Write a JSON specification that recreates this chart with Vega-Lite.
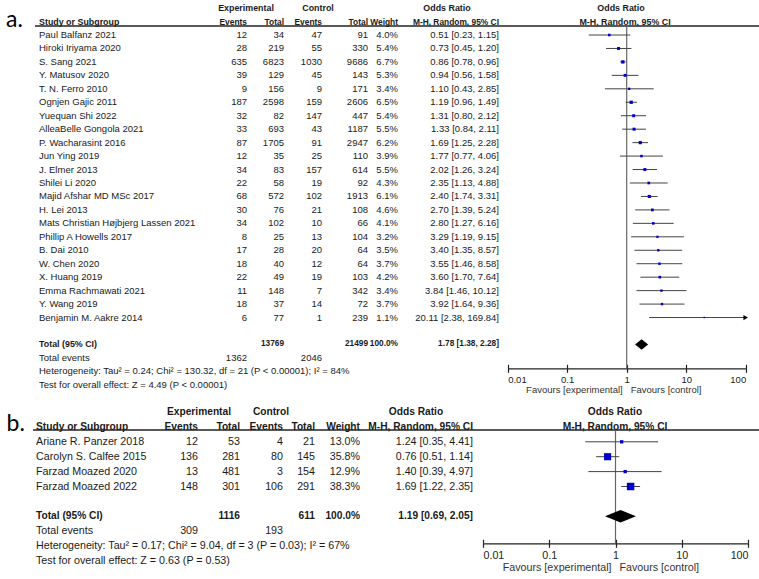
{
  "$schema": "https://vega.github.io/schema/vega-lite/v6.json",
  "width": 759,
  "height": 579,
  "autosize": {"type": "none"},
  "padding": 0,
  "background": "white",
  "config": {
    "view": {"stroke": null},
    "text": {"font": "Liberation Sans", "fontSize": 9.5, "color": "#1a1a1a", "baseline": "middle"}
  },
  "datasets": {
    "cols": [
      {"k": "label", "c": 0}, {"k": "ee", "c": 1}, {"k": "et", "c": 2}, {"k": "ce", "c": 3},
      {"k": "ct", "c": 4}, {"k": "wt", "c": 5}, {"k": "ci", "c": 6}
    ],
    "heads": [
      {"p": "a", "r": -2, "c": 7, "t": "Experimental"},
      {"p": "a", "r": -2, "c": 8, "t": "Control"},
      {"p": "a", "r": -2, "c": 9, "t": "Odds Ratio"},
      {"p": "a", "r": -2, "c": 10, "t": "Odds Ratio"},
      {"p": "a", "r": -1, "c": 0, "t": "Study or Subgroup"},
      {"p": "a", "r": -1, "c": 1, "t": "Events"},
      {"p": "a", "r": -1, "c": 2, "t": "Total"},
      {"p": "a", "r": -1, "c": 3, "t": "Events"},
      {"p": "a", "r": -1, "c": 4, "t": "Total"},
      {"p": "a", "r": -1, "c": 5, "t": "Weight"},
      {"p": "a", "r": -1, "c": 6, "t": "M-H, Random, 95% CI"},
      {"p": "a", "r": -1, "c": 11, "t": "M-H, Random, 95% CI"},
      {"p": "a", "r": -1, "c": 12, "t": "a."},
      {"p": "b", "r": -2, "c": 7, "t": "Experimental"},
      {"p": "b", "r": -2, "c": 8, "t": "Control"},
      {"p": "b", "r": -2, "c": 9, "t": "Odds Ratio"},
      {"p": "b", "r": -2, "c": 10, "t": "Odds Ratio"},
      {"p": "b", "r": -1, "c": 0, "t": "Study or Subgroup"},
      {"p": "b", "r": -1, "c": 1, "t": "Events"},
      {"p": "b", "r": -1, "c": 2, "t": "Total"},
      {"p": "b", "r": -1, "c": 3, "t": "Events"},
      {"p": "b", "r": -1, "c": 4, "t": "Total"},
      {"p": "b", "r": -1, "c": 5, "t": "Weight"},
      {"p": "b", "r": -1, "c": 6, "t": "M-H, Random, 95% CI"},
      {"p": "b", "r": -1, "c": 11, "t": "M-H, Random, 95% CI"},
      {"p": "b", "r": -1, "c": 12, "t": "b."}
    ],
    "rows": [
      {"p": "a", "r": 0, "kind": "study", "label": "Paul Balfanz 2021", "ee": 12, "et": 34, "ce": 47, "ct": 91, "w": 4.0, "or": 0.51, "lo": 0.23, "hi": 1.15},
      {"p": "a", "r": 1, "kind": "study", "label": "Hiroki Iriyama 2020", "ee": 28, "et": 219, "ce": 55, "ct": 330, "w": 5.4, "or": 0.73, "lo": 0.45, "hi": 1.20},
      {"p": "a", "r": 2, "kind": "study", "label": "S. Sang 2021", "ee": 635, "et": 6823, "ce": 1030, "ct": 9686, "w": 6.7, "or": 0.86, "lo": 0.78, "hi": 0.96},
      {"p": "a", "r": 3, "kind": "study", "label": "Y. Matusov 2020", "ee": 39, "et": 129, "ce": 45, "ct": 143, "w": 5.3, "or": 0.94, "lo": 0.56, "hi": 1.58},
      {"p": "a", "r": 4, "kind": "study", "label": "T. N. Ferro 2010", "ee": 9, "et": 156, "ce": 9, "ct": 171, "w": 3.4, "or": 1.10, "lo": 0.43, "hi": 2.85},
      {"p": "a", "r": 5, "kind": "study", "label": "Ognjen Gajic 2011", "ee": 187, "et": 2598, "ce": 159, "ct": 2606, "w": 6.5, "or": 1.19, "lo": 0.96, "hi": 1.49},
      {"p": "a", "r": 6, "kind": "study", "label": "Yuequan Shi 2022", "ee": 32, "et": 82, "ce": 147, "ct": 447, "w": 5.4, "or": 1.31, "lo": 0.80, "hi": 2.12},
      {"p": "a", "r": 7, "kind": "study", "label": "AlleaBelle Gongola 2021", "ee": 33, "et": 693, "ce": 43, "ct": 1187, "w": 5.5, "or": 1.33, "lo": 0.84, "hi": 2.11},
      {"p": "a", "r": 8, "kind": "study", "label": "P. Wacharasint 2016", "ee": 87, "et": 1705, "ce": 91, "ct": 2947, "w": 6.2, "or": 1.69, "lo": 1.25, "hi": 2.28},
      {"p": "a", "r": 9, "kind": "study", "label": "Jun Ying 2019", "ee": 12, "et": 35, "ce": 25, "ct": 110, "w": 3.9, "or": 1.77, "lo": 0.77, "hi": 4.06},
      {"p": "a", "r": 10, "kind": "study", "label": "J. Elmer 2013", "ee": 34, "et": 83, "ce": 157, "ct": 614, "w": 5.5, "or": 2.02, "lo": 1.26, "hi": 3.24},
      {"p": "a", "r": 11, "kind": "study", "label": "Shilei Li 2020", "ee": 22, "et": 58, "ce": 19, "ct": 92, "w": 4.3, "or": 2.35, "lo": 1.13, "hi": 4.88},
      {"p": "a", "r": 12, "kind": "study", "label": "Majid Afshar MD MSc 2017", "ee": 68, "et": 572, "ce": 102, "ct": 1913, "w": 6.1, "or": 2.40, "lo": 1.74, "hi": 3.31},
      {"p": "a", "r": 13, "kind": "study", "label": "H. Lei 2013", "ee": 30, "et": 76, "ce": 21, "ct": 108, "w": 4.6, "or": 2.70, "lo": 1.39, "hi": 5.24},
      {"p": "a", "r": 14, "kind": "study", "label": "Mats Christian Højbjerg Lassen 2021", "ee": 34, "et": 102, "ce": 10, "ct": 66, "w": 4.1, "or": 2.80, "lo": 1.27, "hi": 6.16},
      {"p": "a", "r": 15, "kind": "study", "label": "Phillip A Howells 2017", "ee": 8, "et": 25, "ce": 13, "ct": 104, "w": 3.2, "or": 3.29, "lo": 1.19, "hi": 9.15},
      {"p": "a", "r": 16, "kind": "study", "label": "B. Dai 2010", "ee": 17, "et": 28, "ce": 20, "ct": 64, "w": 3.5, "or": 3.40, "lo": 1.35, "hi": 8.57},
      {"p": "a", "r": 17, "kind": "study", "label": "W. Chen 2020", "ee": 18, "et": 40, "ce": 12, "ct": 64, "w": 3.7, "or": 3.55, "lo": 1.46, "hi": 8.58},
      {"p": "a", "r": 18, "kind": "study", "label": "X. Huang 2019", "ee": 22, "et": 49, "ce": 19, "ct": 103, "w": 4.2, "or": 3.60, "lo": 1.70, "hi": 7.64},
      {"p": "a", "r": 19, "kind": "study", "label": "Emma Rachmawati 2021", "ee": 11, "et": 148, "ce": 7, "ct": 342, "w": 3.4, "or": 3.84, "lo": 1.46, "hi": 10.12},
      {"p": "a", "r": 20, "kind": "study", "label": "Y. Wang 2019", "ee": 18, "et": 37, "ce": 14, "ct": 72, "w": 3.7, "or": 3.92, "lo": 1.64, "hi": 9.36},
      {"p": "a", "r": 21, "kind": "study", "label": "Benjamin M. Aakre 2014", "ee": 6, "et": 77, "ce": 1, "ct": 239, "w": 1.1, "or": 20.11, "lo": 2.38, "hi": 169.84},
      {"p": "a", "r": 23, "kind": "total", "label": "Total (95% CI)", "et": 13769, "ct": 21499, "w": 100, "or": 1.78, "lo": 1.38, "hi": 2.28},
      {"p": "a", "r": 24, "kind": "events", "label": "Total events", "ee": 1362, "ce": 2046},
      {"p": "a", "r": 25, "kind": "note", "label": "Heterogeneity: Tau² = 0.24; Chi² = 130.32, df = 21 (P < 0.00001); I² = 84%"},
      {"p": "a", "r": 26, "kind": "note", "label": "Test for overall effect: Z = 4.49 (P < 0.00001)"},
      {"p": "b", "r": 0, "kind": "study", "label": "Ariane R. Panzer 2018", "ee": 12, "et": 53, "ce": 4, "ct": 21, "w": 13.0, "or": 1.24, "lo": 0.35, "hi": 4.41},
      {"p": "b", "r": 1, "kind": "study", "label": "Carolyn S. Calfee 2015", "ee": 136, "et": 281, "ce": 80, "ct": 145, "w": 35.8, "or": 0.76, "lo": 0.51, "hi": 1.14},
      {"p": "b", "r": 2, "kind": "study", "label": "Farzad Moazed 2020", "ee": 13, "et": 481, "ce": 3, "ct": 154, "w": 12.9, "or": 1.40, "lo": 0.39, "hi": 4.97},
      {"p": "b", "r": 3, "kind": "study", "label": "Farzad Moazed 2022", "ee": 148, "et": 301, "ce": 106, "ct": 291, "w": 38.3, "or": 1.69, "lo": 1.22, "hi": 2.35},
      {"p": "b", "r": 5, "kind": "total", "label": "Total (95% CI)", "et": 1116, "ct": 611, "w": 100, "or": 1.19, "lo": 0.69, "hi": 2.05},
      {"p": "b", "r": 6, "kind": "events", "label": "Total events", "ee": 309, "ce": 193},
      {"p": "b", "r": 7, "kind": "note", "label": "Heterogeneity: Tau² = 0.17; Chi² = 9.04, df = 3 (P = 0.03); I² = 67%"},
      {"p": "b", "r": 8, "kind": "note", "label": "Test for overall effect: Z = 0.63 (P = 0.53)"}
    ]
  },
  "layer": [
    {"data": {"name": "heads"}, "transform": [{"filter": "datum.p == 'a' && datum.c == 0"}],
     "mark": {"type": "text", "align": "left", "fontWeight": "bold", "fontSize": 8.9},
     "encoding": {
       "x": {"field": "c", "type": "quantitative", "axis": null, "scale": {"domain": [0,1,2,3,4,5,6,7,8,9,10,11,12,13,14], "range": [39,247,284,322,368,398,499,246,318,447,621,625,6,35,759], "nice": false, "zero": false}},
       "y": {"field": "r", "type": "quantitative", "axis": null, "scale": {"domain": [-2, 26], "range": [8.1, 384.8], "nice": false, "zero": false}},
       "text": {"field": "t"}}},
    {"data": {"name": "heads"}, "transform": [{"filter": "datum.p == 'a' && datum.c >= 1 && datum.c <= 6"}],
     "mark": {"type": "text", "align": "right", "fontWeight": "bold", "fontSize": 8.4},
     "encoding": {
       "x": {"field": "c", "type": "quantitative", "axis": null, "scale": {"domain": [0,1,2,3,4,5,6,7,8,9,10,11,12,13,14], "range": [39,247,284,322,368,398,499,246,318,447,621,625,6,35,759], "nice": false, "zero": false}},
       "y": {"field": "r", "type": "quantitative", "axis": null, "scale": {"domain": [-2, 26], "range": [8.1, 384.8], "nice": false, "zero": false}},
       "text": {"field": "t"}}},
    {"data": {"name": "heads"}, "transform": [{"filter": "datum.p == 'a' && datum.c >= 7 && datum.c <= 11"}],
     "mark": {"type": "text", "align": "center", "fontWeight": "bold", "fontSize": 8.9},
     "encoding": {
       "x": {"field": "c", "type": "quantitative", "axis": null, "scale": {"domain": [0,1,2,3,4,5,6,7,8,9,10,11,12,13,14], "range": [39,247,284,322,368,398,499,246,318,447,621,625,6,35,759], "nice": false, "zero": false}},
       "y": {"field": "r", "type": "quantitative", "axis": null, "scale": {"domain": [-2, 26], "range": [8.1, 384.8], "nice": false, "zero": false}},
       "text": {"field": "t"}}},
    {"data": {"name": "heads"}, "transform": [{"filter": "datum.p == 'a' && datum.c == 12"}],
     "mark": {"type": "text", "align": "left", "baseline": "alphabetic", "font": "Lato", "fontSize": 23, "dy": 5.5, "color": "#000"},
     "encoding": {
       "x": {"field": "c", "type": "quantitative", "axis": null, "scale": {"domain": [0,1,2,3,4,5,6,7,8,9,10,11,12,13,14], "range": [39,247,284,322,368,398,499,246,318,447,621,625,6,35,759], "nice": false, "zero": false}},
       "y": {"field": "r", "type": "quantitative", "axis": null, "scale": {"domain": [-2, 26], "range": [8.1, 384.8], "nice": false, "zero": false}},
       "text": {"field": "t"}}},
    {"data": {"name": "heads"}, "transform": [{"filter": "datum.p == 'a' && datum.c == 12"}],
     "mark": {"type": "rule", "color": "#222", "strokeWidth": 1.5},
     "encoding": {
       "x": {"datum": 13, "type": "quantitative", "axis": null, "scale": {"domain": [0,1,2,3,4,5,6,7,8,9,10,11,12,13,14], "range": [39,247,284,322,368,398,499,246,318,447,621,625,6,35,759], "nice": false, "zero": false}},
       "x2": {"datum": 14},
       "y": {"datum": -0.67, "type": "quantitative", "axis": null, "scale": {"domain": [-2, 26], "range": [8.1, 384.8], "nice": false, "zero": false}}}},
    {"data": {"name": "rows"}, "transform": [{"filter": "datum.p == 'a' && datum.kind != 'total'"},
       {"fold": ["label"], "as": ["k", "v"]},
       {"lookup": "k", "from": {"data": {"name": "cols"}, "key": "k", "fields": ["c"]}}],
     "mark": {"type": "text", "align": "left"},
     "encoding": {
       "x": {"field": "c", "type": "quantitative", "axis": null, "scale": {"domain": [0,1,2,3,4,5,6,7,8,9,10,11,12,13,14], "range": [39,247,284,322,368,398,499,246,318,447,621,625,6,35,759], "nice": false, "zero": false}},
       "y": {"field": "r", "type": "quantitative", "axis": null, "scale": {"domain": [-2, 26], "range": [8.1, 384.8], "nice": false, "zero": false}},
       "text": {"field": "v", "type": "nominal"}}},
    {"data": {"name": "rows"}, "transform": [{"filter": "datum.p == 'a' && (datum.kind == 'study' || datum.kind == 'events')"},
       {"calculate": "isValid(datum.w) ? format(datum.w, '.1f') + '%' : null", "as": "wt"},
       {"calculate": "isValid(datum.or) ? format(datum.or, '.2f') + ' [' + format(datum.lo, '.2f') + ', ' + format(datum.hi, '.2f') + ']' : null", "as": "ci"},
       {"fold": ["ee", "et", "ce", "ct", "wt", "ci"], "as": ["k", "v"]},
       {"filter": "isValid(datum.v)"},
       {"lookup": "k", "from": {"data": {"name": "cols"}, "key": "k", "fields": ["c"]}}],
     "mark": {"type": "text", "align": "right"},
     "encoding": {
       "x": {"field": "c", "type": "quantitative", "axis": null, "scale": {"domain": [0,1,2,3,4,5,6,7,8,9,10,11,12,13,14], "range": [39,247,284,322,368,398,499,246,318,447,621,625,6,35,759], "nice": false, "zero": false}},
       "y": {"field": "r", "type": "quantitative", "axis": null, "scale": {"domain": [-2, 26], "range": [8.1, 384.8], "nice": false, "zero": false}},
       "text": {"field": "v", "type": "nominal"}}},
    {"data": {"name": "rows"}, "transform": [{"filter": "datum.p == 'a' && datum.kind == 'total'"},
       {"fold": ["label"], "as": ["k", "v"]},
       {"lookup": "k", "from": {"data": {"name": "cols"}, "key": "k", "fields": ["c"]}}],
     "mark": {"type": "text", "align": "left", "fontWeight": "bold", "fontSize": 8.9},
     "encoding": {
       "x": {"field": "c", "type": "quantitative", "axis": null, "scale": {"domain": [0,1,2,3,4,5,6,7,8,9,10,11,12,13,14], "range": [39,247,284,322,368,398,499,246,318,447,621,625,6,35,759], "nice": false, "zero": false}},
       "y": {"field": "r", "type": "quantitative", "axis": null, "scale": {"domain": [-2, 26], "range": [8.1, 384.8], "nice": false, "zero": false}},
       "text": {"field": "v", "type": "nominal"}}},
    {"data": {"name": "rows"}, "transform": [{"filter": "datum.p == 'a' && datum.kind == 'total'"},
       {"calculate": "format(datum.w, '.1f') + '%'", "as": "wt"},
       {"calculate": "format(datum.or, '.2f') + ' [' + format(datum.lo, '.2f') + ', ' + format(datum.hi, '.2f') + ']'", "as": "ci"},
       {"fold": ["et", "ct", "wt", "ci"], "as": ["k", "v"]},
       {"lookup": "k", "from": {"data": {"name": "cols"}, "key": "k", "fields": ["c"]}}],
     "mark": {"type": "text", "align": "right", "fontWeight": "bold", "fontSize": 8.3},
     "encoding": {
       "x": {"field": "c", "type": "quantitative", "axis": null, "scale": {"domain": [0,1,2,3,4,5,6,7,8,9,10,11,12,13,14], "range": [39,247,284,322,368,398,499,246,318,447,621,625,6,35,759], "nice": false, "zero": false}},
       "y": {"field": "r", "type": "quantitative", "axis": null, "scale": {"domain": [-2, 26], "range": [8.1, 384.8], "nice": false, "zero": false}},
       "text": {"field": "v", "type": "nominal"}}},

    {"data": {"name": "rows"}, "transform": [{"filter": "datum.p == 'a' && datum.kind == 'total'"}],
     "mark": {"type": "rule", "color": "#666", "strokeWidth": 1.2},
     "encoding": {
       "x": {"datum": 1, "type": "quantitative", "scale": {"type": "log", "domain": [0.01, 100], "range": [507.7, 745.7], "clamp": true, "nice": false},
             "axis": {"orient": "bottom", "offset": -210.7, "values": [0.01, 0.1, 1, 10, 100], "format": "~g", "labelFlush": true,
                      "labelFont": "Liberation Sans", "labelFontSize": 9.5, "labelColor": "#222", "labelPadding": 2,
                      "domainColor": "#222", "domainWidth": 1.2, "tickColor": "#222", "tickWidth": 1.2, "tickSize": 4,
                      "grid": false, "title": null, "labelOverlap": false}},
       "y": {"datum": -0.67, "type": "quantitative", "axis": null, "scale": {"domain": [-2, 26], "range": [8.1, 384.8], "nice": false, "zero": false}},
       "y2": {"datum": 24.77}}},
    {"data": {"name": "rows"}, "transform": [{"filter": "datum.p == 'a' && datum.kind == 'study'"}],
     "mark": {"type": "rule", "color": "#444", "strokeWidth": 1},
     "encoding": {
       "x": {"field": "lo", "type": "quantitative", "scale": {"type": "log", "domain": [0.01, 100], "range": [507.7, 745.7], "clamp": true, "nice": false},
             "axis": {"orient": "bottom", "offset": -210.7, "values": [0.01, 0.1, 1, 10, 100], "labels": false, "domain": false,
                      "tickColor": "#222", "tickWidth": 1.2, "tickSize": -4, "grid": false, "title": null}},
       "x2": {"field": "hi"},
       "y": {"field": "r", "type": "quantitative", "axis": null, "scale": {"domain": [-2, 26], "range": [8.1, 384.8], "nice": false, "zero": false}}}},
    {"data": {"name": "rows"}, "transform": [{"filter": "datum.p == 'a' && datum.kind == 'study'"}],
     "mark": {"type": "point", "shape": "square", "filled": true, "color": "#0000c8", "opacity": 1},
     "encoding": {
       "x": {"field": "or", "type": "quantitative", "axis": null, "scale": {"type": "log", "domain": [0.01, 100], "range": [507.7, 745.7], "clamp": true, "nice": false}},
       "y": {"field": "r", "type": "quantitative", "axis": null, "scale": {"domain": [-2, 26], "range": [8.1, 384.8], "nice": false, "zero": false}},
       "size": {"field": "w", "type": "quantitative", "scale": {"domain": [0, 6.7], "range": [0, 11]}, "legend": null}}},
    {"data": {"name": "rows"}, "transform": [{"filter": "datum.p == 'a' && datum.kind == 'study' && datum.hi > 100"}],
     "mark": {"type": "point", "shape": "triangle-right", "filled": true, "color": "#000", "opacity": 1, "size": 28},
     "encoding": {
       "x": {"field": "hi", "type": "quantitative", "axis": null, "scale": {"type": "log", "domain": [0.01, 100], "range": [507.7, 745.7], "clamp": true, "nice": false}},
       "y": {"field": "r", "type": "quantitative", "axis": null, "scale": {"domain": [-2, 26], "range": [8.1, 384.8], "nice": false, "zero": false}}}},
    {"data": {"name": "rows"}, "transform": [{"filter": "datum.p == 'a' && datum.kind == 'total'"}],
     "mark": {"type": "point", "shape": "M-1,0L0,-0.8L1,0L0,0.8Z", "filled": true, "color": "#000", "opacity": 1, "size": 169},
     "encoding": {
       "x": {"field": "or", "type": "quantitative", "axis": null, "scale": {"type": "log", "domain": [0.01, 100], "range": [507.7, 745.7], "clamp": true, "nice": false}},
       "y": {"field": "r", "type": "quantitative", "axis": null, "scale": {"domain": [-2, 26], "range": [8.1, 384.8], "nice": false, "zero": false}}}},
    {"data": {"name": "rows"}, "transform": [{"filter": "datum.p == 'a' && datum.kind == 'total'"}],
     "mark": {"type": "text", "align": "right", "dx": -4, "color": "#333"},
     "encoding": {
       "x": {"datum": 1, "type": "quantitative", "axis": null, "scale": {"type": "log", "domain": [0.01, 100], "range": [507.7, 745.7], "clamp": true, "nice": false}},
       "y": {"datum": 26.39, "type": "quantitative", "axis": null, "scale": {"domain": [-2, 26], "range": [8.1, 384.8], "nice": false, "zero": false}},
       "text": {"value": "Favours [experimental]"}}},
    {"data": {"name": "rows"}, "transform": [{"filter": "datum.p == 'a' && datum.kind == 'total'"}],
     "mark": {"type": "text", "align": "left", "dx": 4, "color": "#333"},
     "encoding": {
       "x": {"datum": 1, "type": "quantitative", "axis": null, "scale": {"type": "log", "domain": [0.01, 100], "range": [507.7, 745.7], "clamp": true, "nice": false}},
       "y": {"datum": 26.39, "type": "quantitative", "axis": null, "scale": {"domain": [-2, 26], "range": [8.1, 384.8], "nice": false, "zero": false}},
       "text": {"value": "Favours [control]"}}},

    {"data": {"name": "heads"}, "transform": [{"filter": "datum.p == 'b' && datum.c == 0"}],
     "mark": {"type": "text", "align": "left", "fontWeight": "bold", "fontSize": 10.2},
     "encoding": {
       "x": {"field": "c", "type": "quantitative", "axis": null, "scale": {"domain": [0,1,2,3,4,5,6,7,8,9,10,11,12,13,14], "range": [36,198,240,283,315,360,473,199,271,416,615,615,6.5,33,759], "nice": false, "zero": false}},
       "y": {"field": "r", "type": "quantitative", "axis": null, "scale": {"domain": [-2, 8], "range": [412, 561], "nice": false, "zero": false}},
       "text": {"field": "t"}}},
    {"data": {"name": "heads"}, "transform": [{"filter": "datum.p == 'b' && datum.c >= 1 && datum.c <= 6"}],
     "mark": {"type": "text", "align": "right", "fontWeight": "bold", "fontSize": 10.2},
     "encoding": {
       "x": {"field": "c", "type": "quantitative", "axis": null, "scale": {"domain": [0,1,2,3,4,5,6,7,8,9,10,11,12,13,14], "range": [36,198,240,283,315,360,473,199,271,416,615,615,6.5,33,759], "nice": false, "zero": false}},
       "y": {"field": "r", "type": "quantitative", "axis": null, "scale": {"domain": [-2, 8], "range": [412, 561], "nice": false, "zero": false}},
       "text": {"field": "t"}}},
    {"data": {"name": "heads"}, "transform": [{"filter": "datum.p == 'b' && datum.c >= 7 && datum.c <= 11"}],
     "mark": {"type": "text", "align": "center", "fontWeight": "bold", "fontSize": 10.2},
     "encoding": {
       "x": {"field": "c", "type": "quantitative", "axis": null, "scale": {"domain": [0,1,2,3,4,5,6,7,8,9,10,11,12,13,14], "range": [36,198,240,283,315,360,473,199,271,416,615,615,6.5,33,759], "nice": false, "zero": false}},
       "y": {"field": "r", "type": "quantitative", "axis": null, "scale": {"domain": [-2, 8], "range": [412, 561], "nice": false, "zero": false}},
       "text": {"field": "t"}}},
    {"data": {"name": "heads"}, "transform": [{"filter": "datum.p == 'b' && datum.c == 12"}],
     "mark": {"type": "text", "align": "left", "baseline": "alphabetic", "font": "Lato", "fontSize": 23, "dy": 4, "color": "#000"},
     "encoding": {
       "x": {"field": "c", "type": "quantitative", "axis": null, "scale": {"domain": [0,1,2,3,4,5,6,7,8,9,10,11,12,13,14], "range": [36,198,240,283,315,360,473,199,271,416,615,615,6.5,33,759], "nice": false, "zero": false}},
       "y": {"field": "r", "type": "quantitative", "axis": null, "scale": {"domain": [-2, 8], "range": [412, 561], "nice": false, "zero": false}},
       "text": {"field": "t"}}},
    {"data": {"name": "heads"}, "transform": [{"filter": "datum.p == 'b' && datum.c == 12"}],
     "mark": {"type": "rule", "color": "#222", "strokeWidth": 1.5},
     "encoding": {
       "x": {"datum": 13, "type": "quantitative", "axis": null, "scale": {"domain": [0,1,2,3,4,5,6,7,8,9,10,11,12,13,14], "range": [36,198,240,283,315,360,473,199,271,416,615,615,6.5,33,759], "nice": false, "zero": false}},
       "x2": {"datum": 14},
       "y": {"datum": -0.79, "type": "quantitative", "axis": null, "scale": {"domain": [-2, 8], "range": [412, 561], "nice": false, "zero": false}}}},
    {"data": {"name": "rows"}, "transform": [{"filter": "datum.p == 'b' && datum.kind != 'total'"},
       {"fold": ["label"], "as": ["k", "v"]},
       {"lookup": "k", "from": {"data": {"name": "cols"}, "key": "k", "fields": ["c"]}}],
     "mark": {"type": "text", "align": "left", "fontSize": 10.7},
     "encoding": {
       "x": {"field": "c", "type": "quantitative", "axis": null, "scale": {"domain": [0,1,2,3,4,5,6,7,8,9,10,11,12,13,14], "range": [36,198,240,283,315,360,473,199,271,416,615,615,6.5,33,759], "nice": false, "zero": false}},
       "y": {"field": "r", "type": "quantitative", "axis": null, "scale": {"domain": [-2, 8], "range": [412, 561], "nice": false, "zero": false}},
       "text": {"field": "v", "type": "nominal"}}},
    {"data": {"name": "rows"}, "transform": [{"filter": "datum.p == 'b' && (datum.kind == 'study' || datum.kind == 'events')"},
       {"calculate": "isValid(datum.w) ? format(datum.w, '.1f') + '%' : null", "as": "wt"},
       {"calculate": "isValid(datum.or) ? format(datum.or, '.2f') + ' [' + format(datum.lo, '.2f') + ', ' + format(datum.hi, '.2f') + ']' : null", "as": "ci"},
       {"fold": ["ee", "et", "ce", "ct", "wt", "ci"], "as": ["k", "v"]},
       {"filter": "isValid(datum.v)"},
       {"lookup": "k", "from": {"data": {"name": "cols"}, "key": "k", "fields": ["c"]}}],
     "mark": {"type": "text", "align": "right", "fontSize": 10.7},
     "encoding": {
       "x": {"field": "c", "type": "quantitative", "axis": null, "scale": {"domain": [0,1,2,3,4,5,6,7,8,9,10,11,12,13,14], "range": [36,198,240,283,315,360,473,199,271,416,615,615,6.5,33,759], "nice": false, "zero": false}},
       "y": {"field": "r", "type": "quantitative", "axis": null, "scale": {"domain": [-2, 8], "range": [412, 561], "nice": false, "zero": false}},
       "text": {"field": "v", "type": "nominal"}}},
    {"data": {"name": "rows"}, "transform": [{"filter": "datum.p == 'b' && datum.kind == 'total'"},
       {"fold": ["label"], "as": ["k", "v"]},
       {"lookup": "k", "from": {"data": {"name": "cols"}, "key": "k", "fields": ["c"]}}],
     "mark": {"type": "text", "align": "left", "fontWeight": "bold", "fontSize": 10.2},
     "encoding": {
       "x": {"field": "c", "type": "quantitative", "axis": null, "scale": {"domain": [0,1,2,3,4,5,6,7,8,9,10,11,12,13,14], "range": [36,198,240,283,315,360,473,199,271,416,615,615,6.5,33,759], "nice": false, "zero": false}},
       "y": {"field": "r", "type": "quantitative", "axis": null, "scale": {"domain": [-2, 8], "range": [412, 561], "nice": false, "zero": false}},
       "text": {"field": "v", "type": "nominal"}}},
    {"data": {"name": "rows"}, "transform": [{"filter": "datum.p == 'b' && datum.kind == 'total'"},
       {"calculate": "format(datum.w, '.1f') + '%'", "as": "wt"},
       {"calculate": "format(datum.or, '.2f') + ' [' + format(datum.lo, '.2f') + ', ' + format(datum.hi, '.2f') + ']'", "as": "ci"},
       {"fold": ["et", "ct", "wt", "ci"], "as": ["k", "v"]},
       {"lookup": "k", "from": {"data": {"name": "cols"}, "key": "k", "fields": ["c"]}}],
     "mark": {"type": "text", "align": "right", "fontWeight": "bold", "fontSize": 10.2},
     "encoding": {
       "x": {"field": "c", "type": "quantitative", "axis": null, "scale": {"domain": [0,1,2,3,4,5,6,7,8,9,10,11,12,13,14], "range": [36,198,240,283,315,360,473,199,271,416,615,615,6.5,33,759], "nice": false, "zero": false}},
       "y": {"field": "r", "type": "quantitative", "axis": null, "scale": {"domain": [-2, 8], "range": [412, 561], "nice": false, "zero": false}},
       "text": {"field": "v", "type": "nominal"}}},

    {"data": {"name": "rows"}, "transform": [{"filter": "datum.p == 'b' && datum.kind == 'total'"}],
     "mark": {"type": "rule", "color": "#666", "strokeWidth": 1.2},
     "encoding": {
       "x": {"datum": 1, "type": "quantitative", "scale": {"type": "log", "domain": [0.01, 100], "range": [483, 748], "clamp": true, "nice": false},
             "axis": {"orient": "bottom", "offset": -35.7, "values": [0.01, 0.1, 1, 10, 100], "format": "~g", "labelFlush": true,
                      "labelFont": "Liberation Sans", "labelFontSize": 10.7, "labelColor": "#222", "labelPadding": 3,
                      "domainColor": "#222", "domainWidth": 1.2, "tickColor": "#222", "tickWidth": 1.2, "tickSize": 4,
                      "grid": false, "title": null, "labelOverlap": false}},
       "y": {"datum": -0.79, "type": "quantitative", "axis": null, "scale": {"domain": [-2, 8], "range": [412, 561], "nice": false, "zero": false}},
       "y2": {"datum": 6.81}}},
    {"data": {"name": "rows"}, "transform": [{"filter": "datum.p == 'b' && datum.kind == 'study'"}],
     "mark": {"type": "rule", "color": "#444", "strokeWidth": 1},
     "encoding": {
       "x": {"field": "lo", "type": "quantitative", "scale": {"type": "log", "domain": [0.01, 100], "range": [483, 748], "clamp": true, "nice": false},
             "axis": {"orient": "bottom", "offset": -35.7, "values": [0.01, 0.1, 1, 10, 100], "labels": false, "domain": false,
                      "tickColor": "#222", "tickWidth": 1.2, "tickSize": -4, "grid": false, "title": null}},
       "x2": {"field": "hi"},
       "y": {"field": "r", "type": "quantitative", "axis": null, "scale": {"domain": [-2, 8], "range": [412, 561], "nice": false, "zero": false}}}},
    {"data": {"name": "rows"}, "transform": [{"filter": "datum.p == 'b' && datum.kind == 'study'"}],
     "mark": {"type": "point", "shape": "square", "filled": true, "color": "#0000c8", "opacity": 1},
     "encoding": {
       "x": {"field": "or", "type": "quantitative", "axis": null, "scale": {"type": "log", "domain": [0.01, 100], "range": [483, 748], "clamp": true, "nice": false}},
       "y": {"field": "r", "type": "quantitative", "axis": null, "scale": {"domain": [-2, 8], "range": [412, 561], "nice": false, "zero": false}},
       "size": {"field": "w", "type": "quantitative", "scale": {"type": "pow", "exponent": 1.5, "domain": [0, 38.3], "range": [0, 56]}, "legend": null}}},
    {"data": {"name": "rows"}, "transform": [{"filter": "datum.p == 'b' && datum.kind == 'total'"}],
     "mark": {"type": "point", "shape": "M-1,0L0,-0.4L1,0L0,0.4Z", "filled": true, "color": "#000", "opacity": 1, "size": 961},
     "encoding": {
       "x": {"field": "or", "type": "quantitative", "axis": null, "scale": {"type": "log", "domain": [0.01, 100], "range": [483, 748], "clamp": true, "nice": false}},
       "y": {"field": "r", "type": "quantitative", "axis": null, "scale": {"domain": [-2, 8], "range": [412, 561], "nice": false, "zero": false}}}},
    {"data": {"name": "rows"}, "transform": [{"filter": "datum.p == 'b' && datum.kind == 'total'"}],
     "mark": {"type": "text", "align": "right", "dx": -4, "color": "#333", "fontSize": 10.7},
     "encoding": {
       "x": {"datum": 1, "type": "quantitative", "axis": null, "scale": {"type": "log", "domain": [0.01, 100], "range": [483, 748], "clamp": true, "nice": false}},
       "y": {"datum": 8.47, "type": "quantitative", "axis": null, "scale": {"domain": [-2, 8], "range": [412, 561], "nice": false, "zero": false}},
       "text": {"value": "Favours [experimental]"}}},
    {"data": {"name": "rows"}, "transform": [{"filter": "datum.p == 'b' && datum.kind == 'total'"}],
     "mark": {"type": "text", "align": "left", "dx": 4, "color": "#333", "fontSize": 10.7},
     "encoding": {
       "x": {"datum": 1, "type": "quantitative", "axis": null, "scale": {"type": "log", "domain": [0.01, 100], "range": [483, 748], "clamp": true, "nice": false}},
       "y": {"datum": 8.47, "type": "quantitative", "axis": null, "scale": {"domain": [-2, 8], "range": [412, 561], "nice": false, "zero": false}},
       "text": {"value": "Favours [control]"}}}
  ],
  "resolve": {
    "scale": {"x": "independent", "y": "independent", "size": "independent"},
    "axis": {"x": "independent", "y": "independent"}
  }
}
